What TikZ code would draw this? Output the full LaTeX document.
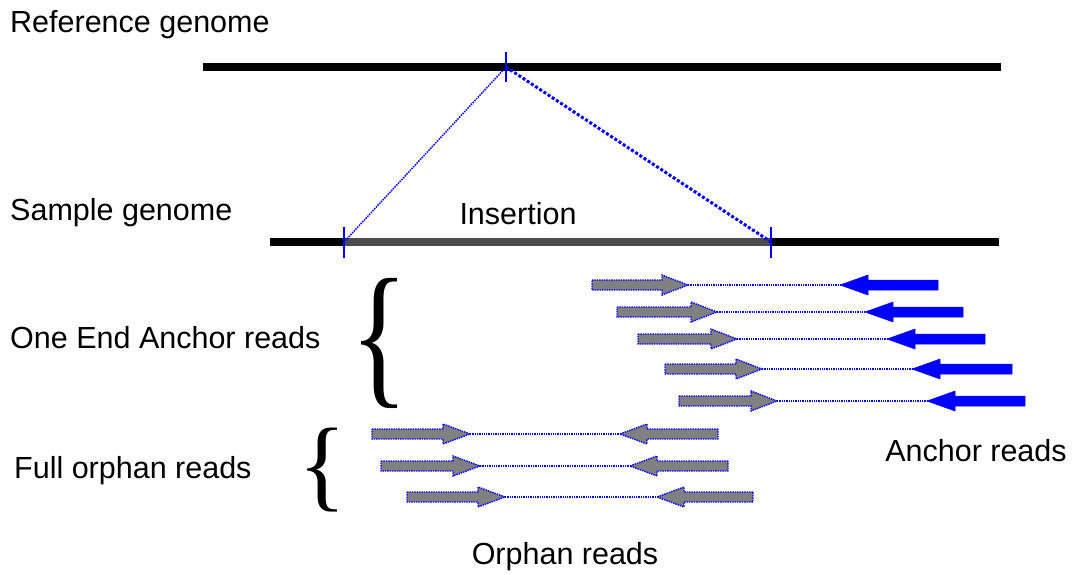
\documentclass[tikz,border=0pt]{standalone}
\usepackage{fontspec}
\setmainfont{Liberation Sans}
\newfontfamily\bracefont{Liberation Serif}
\begin{document}
\begin{tikzpicture}[x=1pt,y=-1pt,
  lbl/.style={font=\fontsize{30.5}{36}\selectfont, inner sep=0pt},
  genome/.style={line width=8pt, black},
  tick/.style={blue, line width=2pt},
  grayread/.style={fill=black!50, draw=blue, densely dotted, line width=1.4pt},
  blueread/.style={fill=blue, draw=blue, line width=0.5pt},
  link/.style={blue, densely dotted, line width=1.3pt}]
\useasboundingbox (0,0) rectangle (1074,574);
% labels
\node[lbl, anchor=base west] (reflbl) at (10,32) {Reference genome};
\node[lbl, anchor=base west] (samlbl) at (10,220) {Sample genome};
\node[lbl, anchor=base] (inslbl) at (518,224) {Insertion};
\node[lbl, anchor=base west] (oealbl) at (10,348) {One End Anchor reads};
\node[lbl, anchor=base west] (fullbl) at (14,478) {Full orphan reads};
\node[lbl, anchor=base] (anclbl) at (976,461) {Anchor reads};
\node[lbl, anchor=base] (orplbl) at (565,564) {Orphan reads};
% genomes
\coordinate (r0) at (203,67); \coordinate (r1) at (1001,67);
\coordinate (s0) at (270,242); \coordinate (s1) at (999,242);
\coordinate (i0) at (344,242); \coordinate (i1) at (771,242);
\coordinate (bp) at (506,67);
\draw[genome] (r0) -- (r1);
\draw[genome] (s0) -- (s1);
\draw[line width=8pt, black!70] (i0) -- (i1);
\draw[tick] (506,52) -- (506,82);
\draw[tick] (344,227) -- (344,258);
\draw[tick] (771,227) -- (771,258);
\draw[blue, densely dotted, line width=1.5pt] (bp) -- (i0);
\draw[blue, dotted, line width=3pt] (bp) -- (i1);
% braces
\node[inner sep=0pt] (br1) at (380,343) {\resizebox*{58pt}{130pt}{\bracefont\{}};
\node[inner sep=0pt] (br2) at (323,470) {\resizebox*{48pt}{84pt}{\bracefont\{}};
% anchor read pairs
\foreach \a/\b/\y/\c/\d [count=\i] in {592/688/285/840/938, 617/717/312/865/963, 638/737/339/887/985, 665/762/369/912/1012, 679/777/401/927/1025}{
  \filldraw[grayread] (\a,\y-5) -- (\b-26,\y-5) -- (\b-26,\y-10) -- (\b,\y) -- (\b-26,\y+10) -- (\b-26,\y+5) -- (\a,\y+5) -- cycle;
  \filldraw[blueread] (\d,\y-5) -- (\c+28,\y-5) -- (\c+28,\y-10) -- (\c,\y) -- (\c+28,\y+10) -- (\c+28,\y+5) -- (\d,\y+5) -- cycle;
  \coordinate (ga\i) at (\b,\y);
  \coordinate (ba\i) at (\c,\y);
  \draw[link] (ga\i) -- (ba\i);
}
% orphan read pairs
\foreach \a/\b/\y/\c/\d [count=\i] in {372/470/434/620/718, 381/480/466/630/728, 407/505/497/657/753}{
  \filldraw[grayread] (\a,\y-5) -- (\b-27,\y-5) -- (\b-27,\y-10) -- (\b,\y) -- (\b-27,\y+10) -- (\b-27,\y+5) -- (\a,\y+5) -- cycle;
  \filldraw[grayread] (\d,\y-5) -- (\c+27,\y-5) -- (\c+27,\y-10) -- (\c,\y) -- (\c+27,\y+10) -- (\c+27,\y+5) -- (\d,\y+5) -- cycle;
  \coordinate (go\i) at (\b,\y);
  \coordinate (gl\i) at (\c,\y);
  \draw[link] (go\i) -- (gl\i);
}
\end{tikzpicture}
\end{document}
